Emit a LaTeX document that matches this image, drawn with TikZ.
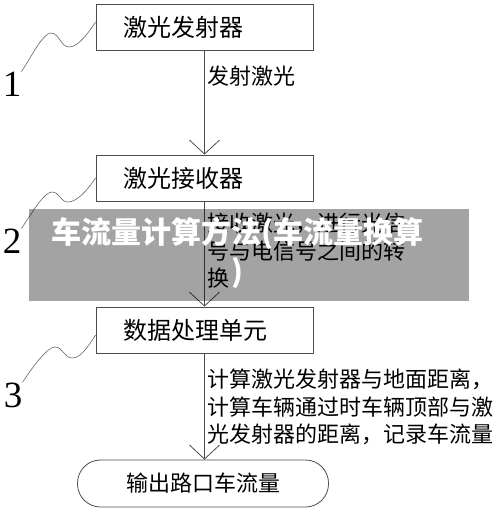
\documentclass[tikz,border=0pt]{standalone}
\usepackage{fontspec}
\newfontfamily\cjk{Noto Sans CJK SC}
\newfontfamily\numfont{Liberation Serif}
\usetikzlibrary{arrows.meta, calc}
\tikzstyle{block} = [draw=black!70, rectangle, line width=0.8pt, minimum height=46pt, text width=163pt, inner xsep=27pt, align=left, font=\cjk\fontsize{24}{28}\selectfont]
\tikzstyle{terminal} = [draw=black!70, rectangle, rounded corners=23pt, line width=0.8pt, minimum width=251pt, minimum height=47pt, font=\cjk\fontsize{22}{26}\selectfont]
\tikzstyle{wire} = [-{Straight Barb[length=14pt,width=30pt]}, draw=black!70, line width=0.8pt]
\tikzstyle{note} = [anchor=north west, align=left, inner sep=0pt, font=\cjk\fontsize{22}{27.5}\selectfont]
\tikzstyle{leader} = [draw=black!60, line width=0.6pt]
\tikzstyle{num} = [inner sep=0pt, font=\numfont\fontsize{37}{37}\selectfont]

\begin{document}
\begin{tikzpicture}[x=1pt, y=-1pt]
    \useasboundingbox (0,0) rectangle (500,511);
    % blocks
    \node[block] (em) at (204.5,27.5) {激光发射器};
    \node[block] (rx) at (204.5,178) {激光接收器};
    \node[block] (cpu) at (204.5,330) {数据处理单元};
    \node[terminal] (out) at (203,483.5) {输出路口车流量};
    % wires
    \draw[wire] (em) -- node[note, pos=0.14, anchor=north west, xshift=3pt] {发射激光} (rx);
    \draw[wire] (rx) -- (cpu);
    \draw[wire] (cpu.south) -- (cpu.south |- out.north);
    \node[note] (l2) at (207,213) {接收激光，进行光信\\号与电信号之间的转\\换};
    \node[note] (l3) at (207,369) {计算激光发射器与地面距离，\\计算车辆通过时车辆顶部与激\\光发射器的距离，记录车流量};
    % part numbers
    \node[num] (n1) at (12,84) {1};
    \node[num] (n2) at (12,241) {2};
    \node[num] (n3) at (13,395) {3};
    \draw[leader] ([yshift=5.5pt]em.west) .. controls +(-8,12) and +(9,0) .. (69,47) .. controls +(-8,0) and +(8,0) .. (51,33) .. controls +(-8,0) and +(10,-15) .. (n1.north east);
    \draw[leader] ([yshift=0pt]rx.west) .. controls +(-8,12) and +(9,0) .. (68,202) .. controls +(-8,0) and +(8,0) .. (52,192) .. controls +(-8,0) and +(10,-15) .. (n2.north east);
    \draw[leader] ([yshift=-5pt]cpu.west) .. controls +(-8,12) and +(9,0) .. (72,358) .. controls +(-8,0) and +(8,0) .. (55,347) .. controls +(-8,0) and +(10,-15) .. (n3.north east);
    % overlay band
    \node[fill=black, fill opacity=0.36, minimum width=440pt, minimum height=92pt, inner sep=0pt, anchor=north west] (band) at (29,209) {};
    \node[text=white, align=center, font=\cjk\bfseries\fontsize{30}{39}\selectfont] (wm) at (237,253) {车流量计算方法(车流量换算\\)};
\end{tikzpicture}
\end{document}
